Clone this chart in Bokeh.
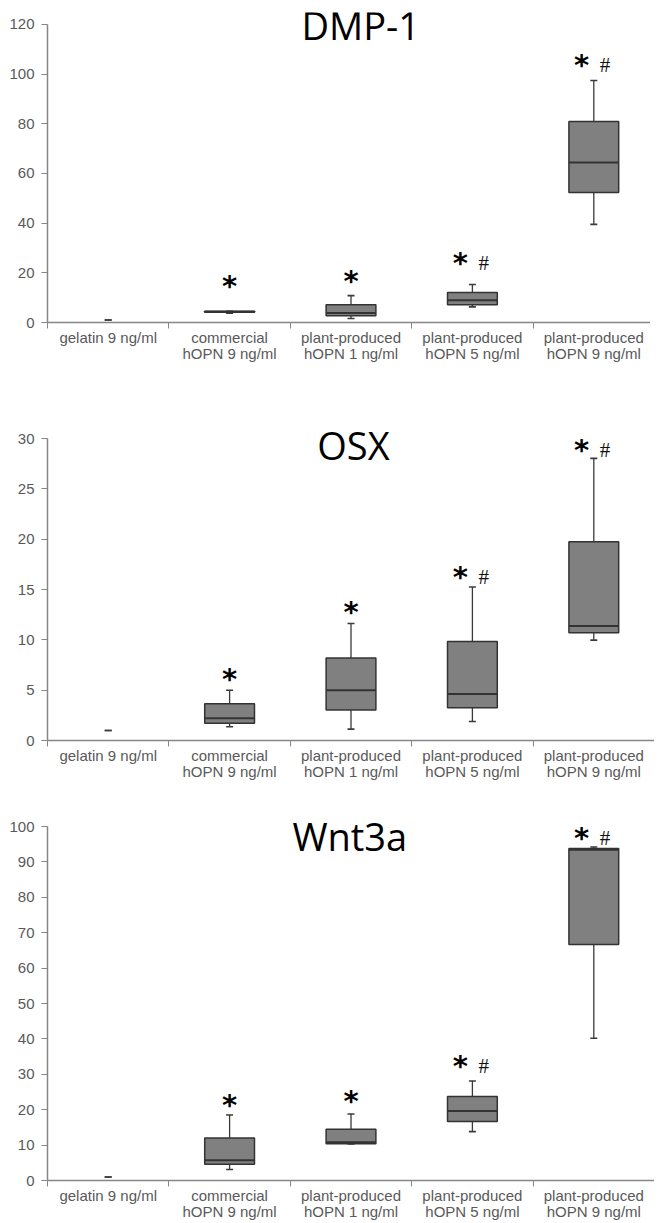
import numpy as np
from bokeh.plotting import figure
from bokeh.models import Range1d, FixedTicker, Label
from bokeh.layouts import column
from bokeh.embed import file_html
from bokeh.resources import INLINE
from bokeh.core.properties import value

categories = ["gelatin 9 ng/ml", "commercial\nhOPN 9 ng/ml", "plant-produced\nhOPN 1 ng/ml",
              "plant-produced\nhOPN 5 ng/ml", "plant-produced\nhOPN 9 ng/ml"]

# DMP-1
dmp_min = [1.0, 3.7, 1.6, 6.3, 39.5]
dmp_q1 = [1.0, 4.1, 2.7, 7.1, 52.3]
dmp_med = [1.0, 4.3, 3.8, 9.0, 64.4]
dmp_q3 = [1.0, 4.5, 7.1, 12.1, 80.9]
dmp_max = [1.0, 4.5, 10.8, 15.3, 97.4]
dmp_star_y = [0, 16.1, 18.1, 25.3, 104.8]
dmp_marks = ["", "*", "*", "*#", "*#"]

# OSX
osx_min = [1.0, 1.36, 1.13, 1.89, 9.98]
osx_q1 = [1.0, 1.72, 3.02, 3.25, 10.71]
osx_med = [1.0, 2.22, 5.0, 4.61, 11.37]
osx_q3 = [1.0, 3.65, 8.19, 9.84, 19.75]
osx_max = [1.0, 5.0, 11.63, 15.25, 28.04]
osx_star_y = [0, 6.46, 13.1, 16.5, 29.2]
osx_marks = ["", "*", "*", "*#", "*#"]

# Wnt3a
wnt_min = [1.0, 3.1, 10.3, 13.8, 40.2]
wnt_q1 = [1.0, 4.6, 10.35, 16.65, 66.7]
wnt_med = [1.0, 5.7, 10.8, 19.6, 93.4]
wnt_q3 = [1.0, 12.04, 14.5, 23.7, 93.8]
wnt_max = [1.0, 18.5, 18.8, 28.1, 94.2]
wnt_star_y = [0, 22.1, 23.2, 33.2, 97.6]
wnt_marks = ["", "*", "*", "*#", "*#"]

LABEL_FONT = "Liberation Sans"
GREY = "#595959"
AXIS = "#868686"
BOX_FILL = "#808080"
BOX_LINE = "#333333"
WHISK = "#3a3a3a"


def panel(title, mins, q1, med, q3, maxs, star_y, marks, ytop, ystep, yend,
          fh, bleft, btop, bbot, title_y, title_x):
    p = figure(frame_width=607, frame_height=fh, x_range=Range1d(0, 5),
               y_range=Range1d(0, yend),
               output_backend="svg", toolbar_location=None,
               min_border_left=bleft, min_border_right=0, min_border_top=btop,
               min_border_bottom=bbot)
    p.outline_line_color = None
    p.grid.visible = False
    p.background_fill_color = "white"

    n = len(categories)
    xs = np.arange(n) + 0.5
    q1a, q3a, meda = np.array(q1), np.array(q3), np.array(med)
    mina, maxa = np.array(mins), np.array(maxs)
    has_box = q3a > q1a
    bw = 0.41

    # whiskers
    p.segment(x0=xs, x1=xs, y0=q3a, y1=maxa, line_color=WHISK, line_width=1.3)
    p.segment(x0=xs, x1=xs, y0=q1a, y1=mina, line_color=WHISK, line_width=1.3)
    p.scatter(x=np.concatenate([xs, xs]), y=np.concatenate([maxa, mina]), marker="dash",
              size=7, line_color=WHISK, line_width=1.6)
    # boxes
    p.vbar(x=xs[has_box], bottom=q1a[has_box], top=q3a[has_box], width=bw,
           fill_color=BOX_FILL, line_color=BOX_LINE, line_width=1.5)
    p.segment(x0=xs[has_box] - bw / 2, x1=xs[has_box] + bw / 2, y0=meda[has_box],
              y1=meda[has_box], line_color=BOX_LINE, line_width=2)

    # significance marks
    sx, sy, hx, hy = [], [], [], []
    for i, m in enumerate(marks):
        if "*" in m:
            sx.append(xs[i] - (0.10 if "#" in m else 0.0))
            sy.append(star_y[i])
        if "#" in m:
            hx.append(xs[i] + 0.093)
            hy.append(star_y[i])
    p.text(x=sx, y=sy, text=["*"] * len(sx), text_font=value("DejaVu Sans"),
           text_font_size="29px", text_font_style="bold", text_align="center",
           text_baseline="middle", y_offset=3, text_color="black")
    p.text(x=hx, y=hy, text=["#"] * len(hx), text_font=value("Liberation Serif"),
           text_font_size="21px", text_align="center", text_baseline="middle",
           y_offset=3, text_color="#111111")

    # chart title
    p.add_layout(Label(x=title_x, y=title_y, text=title, text_font="Open Sans",
                       text_font_size="38px", text_align="center",
                       text_baseline="alphabetic", text_color="black"))

    # axes
    yax = p.yaxis[0]
    yax.ticker = FixedTicker(ticks=list(range(0, ytop + 1, ystep)))
    yax.bounds = (0, ytop)
    yax.axis_line_color = AXIS
    yax.axis_line_width = 1.5
    yax.major_tick_line_color = AXIS
    yax.major_tick_out = 6
    yax.major_tick_in = 0
    yax.minor_tick_line_color = None
    yax.major_label_standoff = 7
    yax.major_label_text_font = LABEL_FONT
    yax.major_label_text_font_size = "15px"
    yax.major_label_text_color = GREY

    xax = p.xaxis[0]
    xax.ticker = FixedTicker(ticks=list(xs), minor_ticks=list(range(0, n + 1)))
    xax.major_label_overrides = {float(x): c for x, c in zip(xs, categories)}
    xax.bounds = (0, 5)
    xax.axis_line_color = AXIS
    xax.axis_line_width = 1.5
    xax.major_tick_line_color = None
    xax.major_tick_out = 0
    xax.major_tick_in = 0
    xax.minor_tick_line_color = AXIS
    xax.minor_tick_out = 6
    xax.minor_tick_in = 0
    xax.major_label_standoff = 0
    xax.major_label_text_font = LABEL_FONT
    xax.major_label_text_font_size = "15px"
    xax.major_label_text_line_height = 0.95
    xax.major_label_text_color = GREY
    return p


p1 = panel("DMP-1", dmp_min, dmp_q1, dmp_med, dmp_q3, dmp_max, dmp_star_y, dmp_marks,
           120, 20, 124.8, 310, 43, 12, 46, 119.6, 2.58)
p2 = panel("OSX", osx_min, osx_q1, osx_med, osx_q3, osx_max, osx_star_y, osx_marks,
           30, 5, 31.01, 312, 47, 60, 46, 29.34, 2.52)
p3 = panel("Wnt3a", wnt_min, wnt_q1, wnt_med, wnt_q3, wnt_max, wnt_star_y, wnt_marks,
           100, 10, 101.98, 361, 47, 33, 42, 97.2, 2.49)

layout = column(p1, p2, p3, spacing=0)
open("out.html", "w").write(file_html(layout, INLINE))
